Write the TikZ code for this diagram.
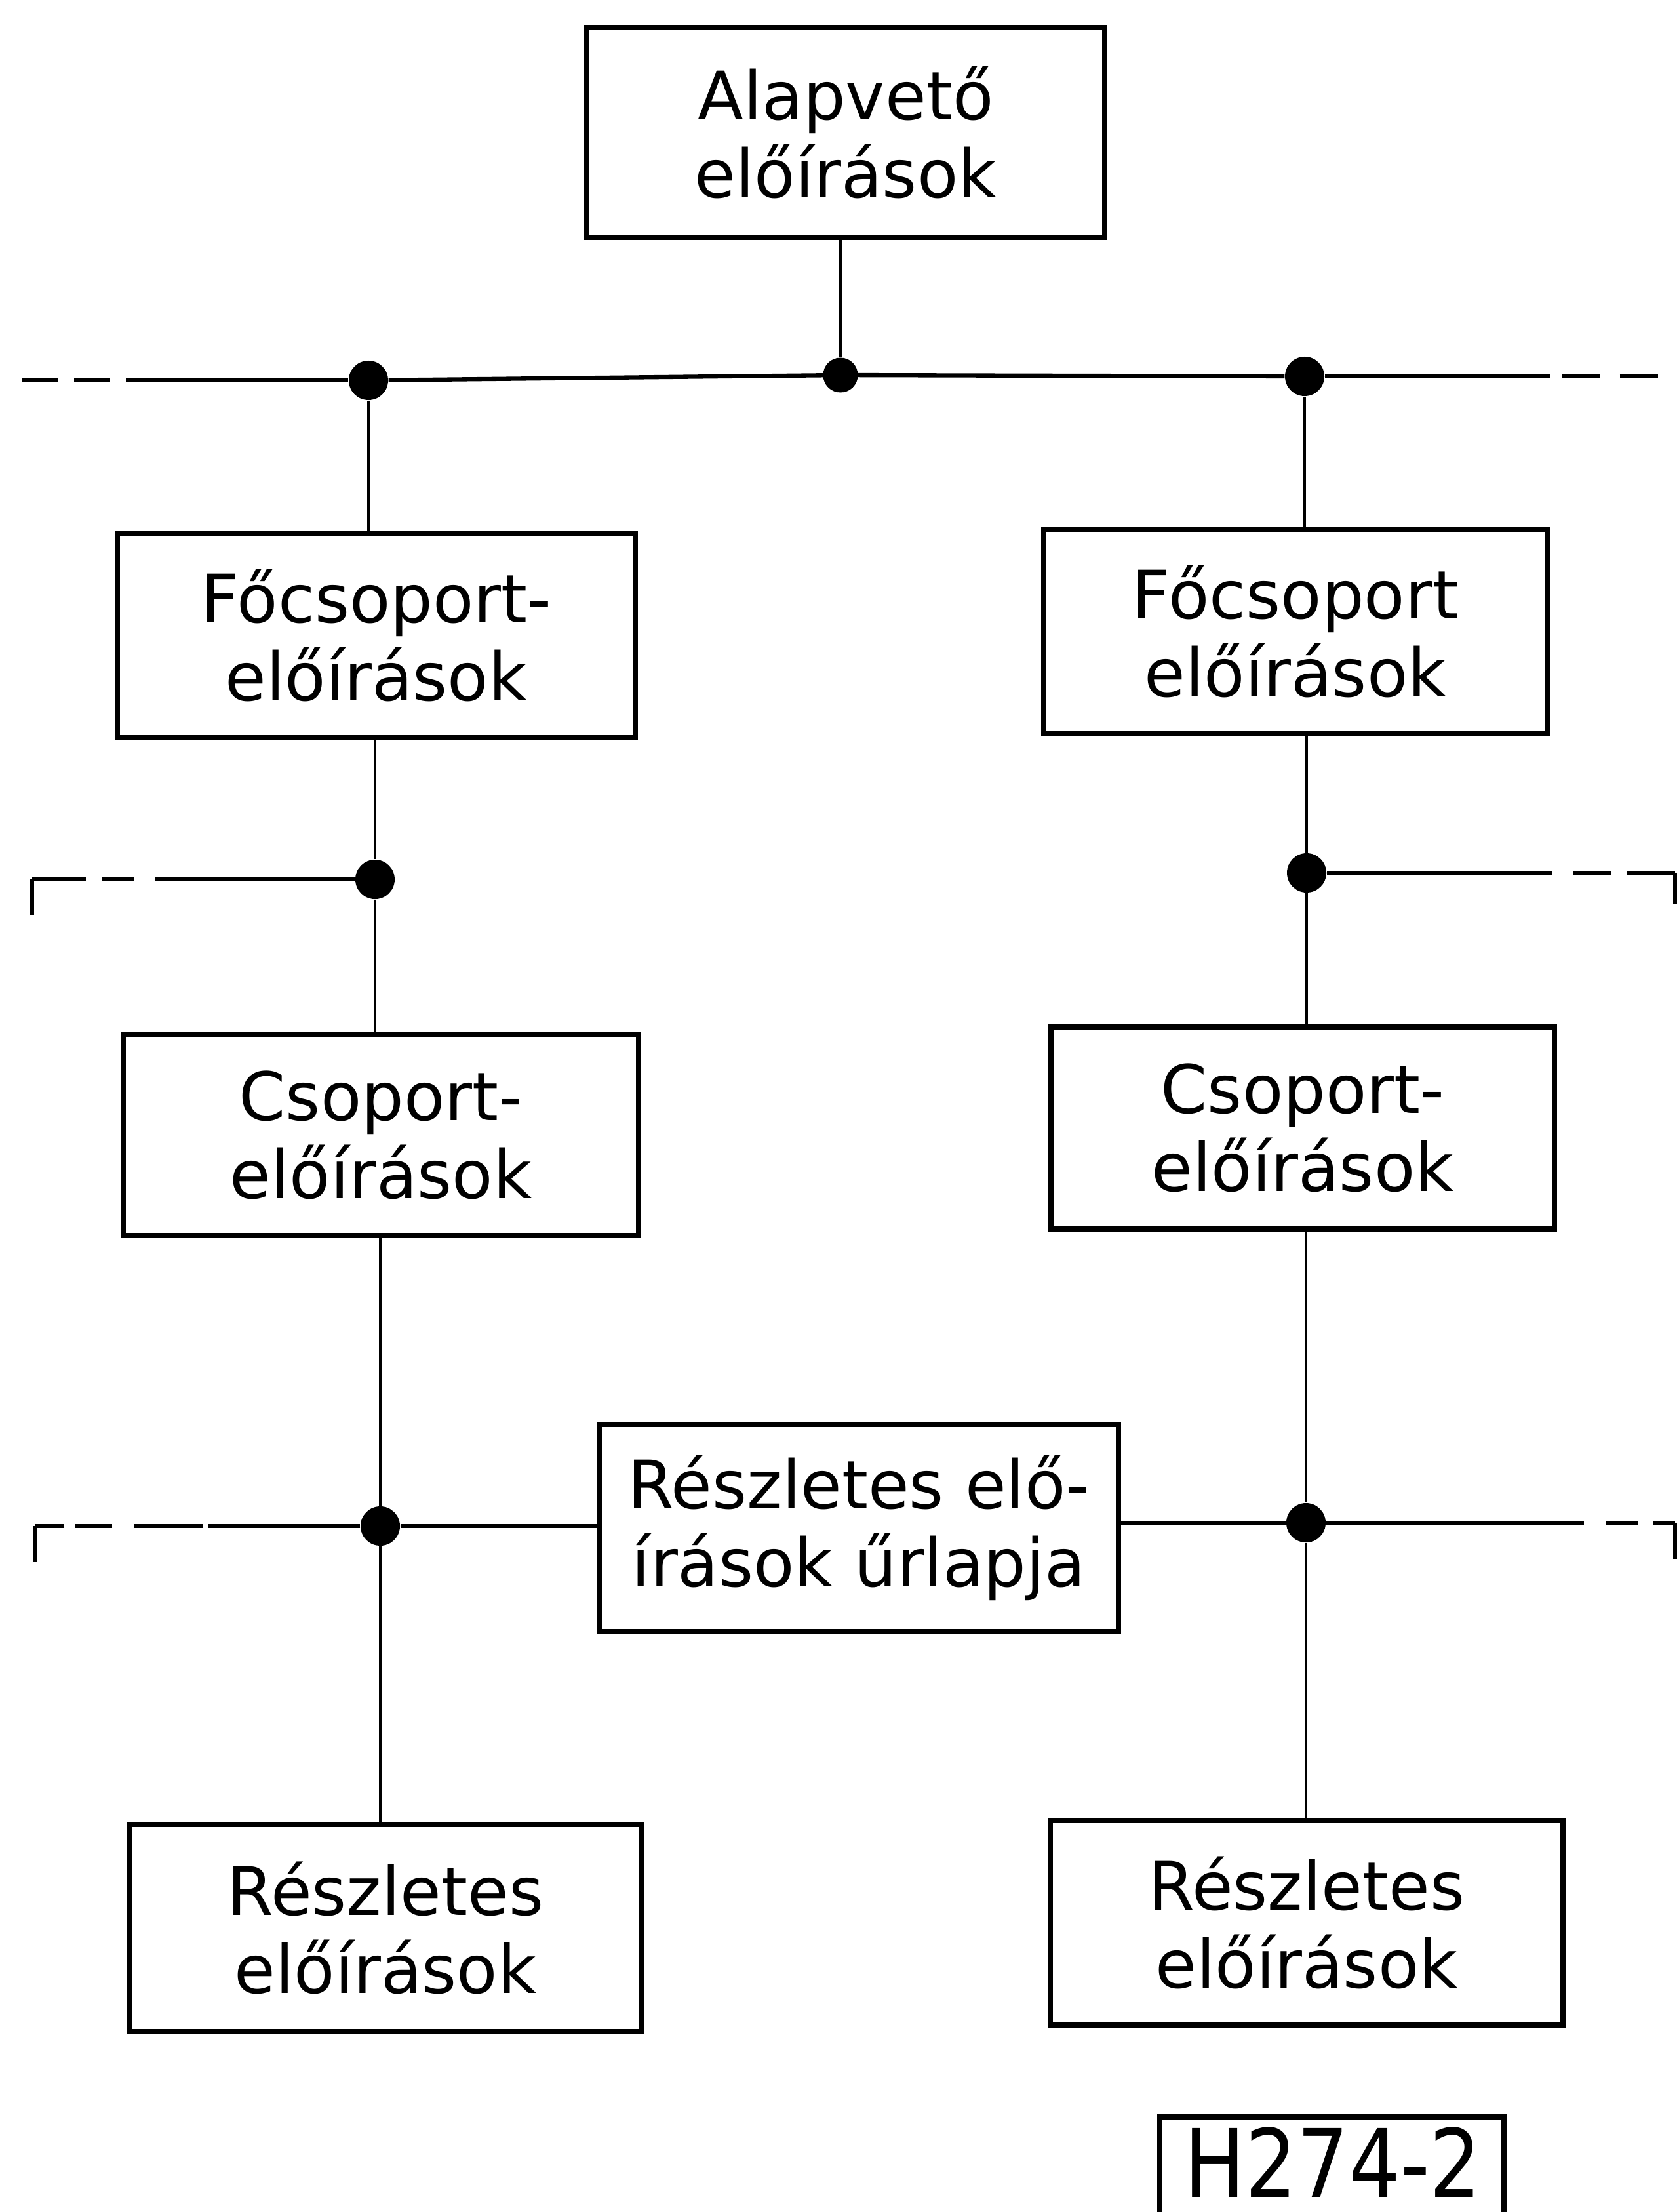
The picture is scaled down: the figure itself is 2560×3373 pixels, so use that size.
\documentclass[tikz,border=0pt]{standalone}
\usepackage{fontspec}
\setmainfont{DejaVu Sans}
\newfontfamily\labelfont[FakeStretch=0.86]{DejaVu Sans}
\begin{document}
\begin{tikzpicture}[x=0.01cm,y=-0.01cm,
  box/.style={draw,line width=2.3pt,inner sep=0pt,align=center,
    font=\fontsize{29}{34}\selectfont},
  dot/.style={circle,fill,inner sep=0pt,minimum size=0.6cm},
  sdot/.style={circle,fill,inner sep=0pt,minimum size=0.53cm},
  vline/.style={line width=1.1pt},
  hline/.style={line width=1.8pt},
  frame/.style={line width=2.3pt}]
\useasboundingbox (0,0) rectangle (2560,3373);

% boxes
\node[box,minimum width=7.9cm,minimum height=3.2cm] (T) at (1290,202) {Alapvető\\előírások};
\node[box,minimum width=7.89cm,minimum height=3.12cm] (F1) at (574,969) {Főcsoport-\\előírások};
\node[box,minimum width=7.68cm,minimum height=3.12cm] (F2) at (1976,963) {Főcsoport\\előírások};
\node[box,minimum width=7.86cm,minimum height=3.06cm] (C1) at (581,1731) {Csoport-\\előírások};
\node[box,minimum width=7.67cm,minimum height=3.08cm] (C2) at (1987,1720) {Csoport-\\előírások};
\node[box,minimum width=7.92cm,minimum height=3.15cm] (M) at (1310,2330) {Részletes elő-\\írások űrlapja};
\node[box,minimum width=7.79cm,minimum height=3.16cm] (R1) at (588,2940) {Részletes\\előírások};
\node[box,minimum width=7.82cm,minimum height=3.11cm] (R2) at (1993,2932) {Részletes\\előírások};

% junction dots
\node[sdot] (d0) at (1282,572) {};
\node[dot] (d1) at (562,580) {};
\node[dot] (d2) at (1990,574) {};
\node[dot] (d3) at (572,1341) {};
\node[dot] (d4) at (1993,1331) {};
\node[dot] (d5) at (580,2327) {};
\node[dot] (d6) at (1992,2322) {};

% top bus
\draw[vline] (d0 |- T.south) -- (d0);
\draw[hline] (d1) -- (d0) -- (d2);
\coordinate (a1) at (206,580);
\coordinate (a0) at (34,580);
\draw[hline] (d1) -- (a1);
\draw[hline,dash pattern=on 15.5pt off 7pt] (a0) -- (a1);
\coordinate (b1) at (2364,574);
\coordinate (b2) at (2383,574);
\coordinate (b3) at (2531,574);
\draw[hline] (d2) -- (b1);
\draw[hline,dash pattern=on 16.6pt off 8.4pt] (b2) -- (b3);

% verticals
\draw[vline] (d1) -- (d1 |- F1.north);
\draw[vline] (d2) -- (d2 |- F2.north);
\draw[vline] (d3 |- F1.south) -- (d3);
\draw[vline] (d4 |- F2.south) -- (d4);
\draw[vline] (d3) -- (d3 |- C1.north);
\draw[vline] (d4) -- (d4 |- C2.north);
\draw[vline] (d5 |- C1.south) -- (d5);
\draw[vline] (d6 |- C2.south) -- (d6);
\draw[vline] (d5) -- (d5 |- R1.north);
\draw[vline] (d6) -- (d6 |- R2.north);

% second bus (left)
\coordinate (c1) at (237,1341);
\coordinate (c2) at (205,1341);
\coordinate (c3) at (156,1341);
\coordinate (c4) at (131,1341);
\coordinate (c5) at (49,1341);
\coordinate (c6) at (49,1396);
\draw[hline] (d3) -- (c1);
\draw[hline] (c2) -- (c3);
\draw[hline] (c4) -- (c5);
\draw[vline,line width=1.5pt] (c5) -- (c6);
% second bus (right)
\coordinate (e1) at (2367,1331);
\coordinate (e2) at (2399,1331);
\coordinate (e3) at (2457,1331);
\coordinate (e4) at (2481,1331);
\coordinate (e5) at (2555,1331);
\coordinate (e6) at (2555,1379);
\draw[hline] (d4) -- (e1);
\draw[hline] (e2) -- (e3);
\draw[hline] (e4) -- (e5);
\draw[vline,line width=1.5pt] (e5) -- (e6);

% third bus (left)
\draw[hline] (d5) -- (d5 -| M.west);
\coordinate (f1) at (318,2327);
\coordinate (f2) at (310,2327);
\coordinate (f3) at (204,2327);
\coordinate (f4) at (171,2327);
\coordinate (f5) at (114,2327);
\coordinate (f6) at (98,2327);
\coordinate (f7) at (54,2327);
\coordinate (f8) at (54,2382);
\draw[hline] (d5) -- (f1);
\draw[hline] (f2) -- (f3);
\draw[hline] (f4) -- (f5);
\draw[hline] (f6) -- (f7);
\draw[vline,line width=1.5pt] (f7) -- (f8);
% third bus (right)
\draw[hline] (d6 -| M.east) -- (d6);
\coordinate (g1) at (2416,2322);
\coordinate (g2) at (2449,2322);
\coordinate (g3) at (2498,2322);
\coordinate (g4) at (2522,2322);
\coordinate (g5) at (2555,2322);
\coordinate (g6) at (2555,2377);
\draw[hline] (d6) -- (g1);
\draw[hline] (g2) -- (g3);
\draw[hline] (g4) -- (g5);
\draw[vline,line width=1.5pt] (g5) -- (g6);

% drawing number
\node[font=\labelfont\fontsize{41}{41}\selectfont,inner sep=0pt,anchor=base] (hl) at (2033,3350) {H274-2};
\coordinate (h1) at (1769,3373);
\coordinate (h2) at (1769,3228);
\coordinate (h3) at (2294,3228);
\coordinate (h4) at (2294,3373);
\draw[frame] (h1) -- (h2) -- (h3) -- (h4);
\end{tikzpicture}
\end{document}
